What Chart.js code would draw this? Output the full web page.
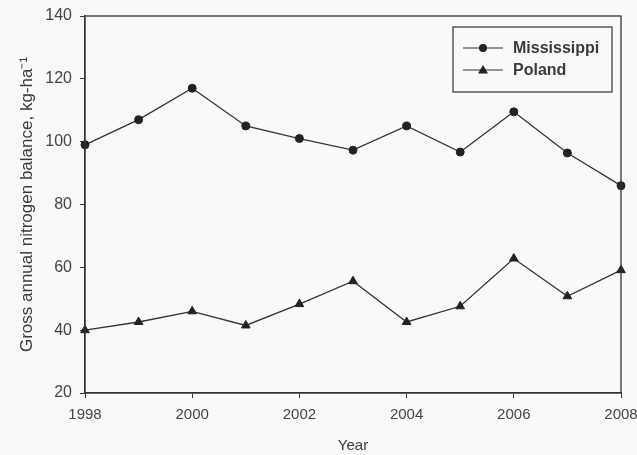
<!DOCTYPE html>
<html>
<head>
<meta charset="utf-8">
<script src="https://cdn.jsdelivr.net/npm/chart.js@4/dist/chart.umd.min.js"></script>
<style>
  html, body { margin: 0; padding: 0; background: #f9f9f8; }
  #wrap { width: 637px; height: 455px; position: relative; }
</style>
</head>
<body>
<div id="wrap"><canvas id="chart"></canvas></div>
<script>
const years = [1998, 1999, 2000, 2001, 2002, 2003, 2004, 2005, 2006, 2007, 2008];
const mississippi = [99, 107, 117, 105, 101, 97.3, 105, 96.7, 109.5, 96.4, 86];
const poland = [40, 42.6, 46, 41.5, 48.3, 55.6, 42.6, 47.6, 62.8, 50.8, 59.1];
const seriesNames = ['Mississippi', 'Poland'];

const ink = '#333';
const textColor = '#444';

// frame on top/right plus the legend box inside the plot
const framePlugin = {
  id: 'frame',
  afterDatasetsDraw(chart) {
    const { ctx, chartArea: a } = chart;
    ctx.save();
    ctx.strokeStyle = ink;
    ctx.lineWidth = 1.3;
    ctx.strokeRect(a.left, a.top, a.right - a.left, a.bottom - a.top);

    // legend
    const bx = a.right - 168, by = a.top + 11, bw = 159, bh = 65;
    ctx.lineWidth = 1.2;
    ctx.strokeRect(bx, by, bw, bh);
    ctx.font = 'bold 16px "Liberation Sans", Arial, sans-serif';
    ctx.textBaseline = 'middle';
    chart.data.datasets.forEach((ds, i) => {
      const y = by + 21 + i * 22;
      ctx.strokeStyle = ink;
      ctx.lineWidth = 1.2;
      ctx.beginPath();
      ctx.moveTo(bx + 10, y);
      ctx.lineTo(bx + 50, y);
      ctx.stroke();
      ctx.fillStyle = '#222';
      ctx.beginPath();
      if (ds.pointStyle === 'triangle') {
        ctx.moveTo(bx + 30, y - 5);
        ctx.lineTo(bx + 35, y + 3.5);
        ctx.lineTo(bx + 25, y + 3.5);
        ctx.closePath();
      } else {
        ctx.arc(bx + 30, y, 4, 0, Math.PI * 2);
      }
      ctx.fill();
      ctx.fillStyle = '#3a3a3a';
      ctx.fillText(ds.label, bx + 60, y + 1);
    });
    ctx.restore();
  }
};

new Chart(document.getElementById('chart'), {
  type: 'line',
  data: {
    datasets: [
      {
        label: seriesNames[0],
        data: years.map((x, i) => ({ x: x, y: mississippi[i] })),
        borderColor: ink,
        borderWidth: 1.3,
        pointStyle: 'circle',
        pointRadius: 4,
        pointBackgroundColor: '#222',
        pointBorderColor: '#222',
        pointBorderWidth: 1
      },
      {
        label: seriesNames[1],
        data: years.map((x, i) => ({ x: x, y: poland[i] })),
        borderColor: ink,
        borderWidth: 1.3,
        pointStyle: 'triangle',
        pointRadius: 5,
        pointBackgroundColor: '#222',
        pointBorderColor: '#222',
        pointBorderWidth: 1
      }
    ]
  },
  options: {
    responsive: true,
    maintainAspectRatio: false,
    animation: false,
    clip: false,
    layout: { padding: { left: 17, right: 16, top: 16, bottom: 0 } },
    plugins: {
      legend: { display: false },
      tooltip: { enabled: false }
    },
    scales: {
      x: {
        type: 'linear',
        min: 1998,
        max: 2008,
        afterFit: s => { s.height = 62; s.paddingRight = 0; s.paddingLeft = 0; },
        border: { color: ink, width: 1.3 },
        grid: { drawOnChartArea: false, drawTicks: true, tickLength: 5, color: ink },
        ticks: {
          stepSize: 2,
          padding: 8,
          color: textColor,
          font: { family: '"Liberation Sans", Arial, sans-serif', size: 15 },
          callback: v => String(v),
          maxRotation: 0
        },
        title: {
          display: true,
          text: 'Year',
          color: '#3a3a3a',
          font: { family: '"Liberation Sans", Arial, sans-serif', size: 15 },
          padding: 0
        }
      },
      y: {
        min: 20,
        max: 140,
        afterFit: s => { s.width = 68; s.paddingTop = 0; s.paddingBottom = 0; },
        border: { color: ink, width: 1.3 },
        grid: { drawOnChartArea: false, drawTicks: true, tickLength: 5, color: ink },
        ticks: {
          stepSize: 20,
          padding: 8,
          color: textColor,
          font: { family: '"Liberation Sans", Arial, sans-serif', size: 16 }
        },
        title: {
          display: true,
          text: 'Gross annual nitrogen balance, kg-ha⁻¹',
          color: '#3a3a3a',
          font: { family: '"Liberation Sans", Arial, sans-serif', size: 17 },
          padding: 0
        }
      }
    }
  },
  plugins: [framePlugin]
});
</script>
</body>
</html>
